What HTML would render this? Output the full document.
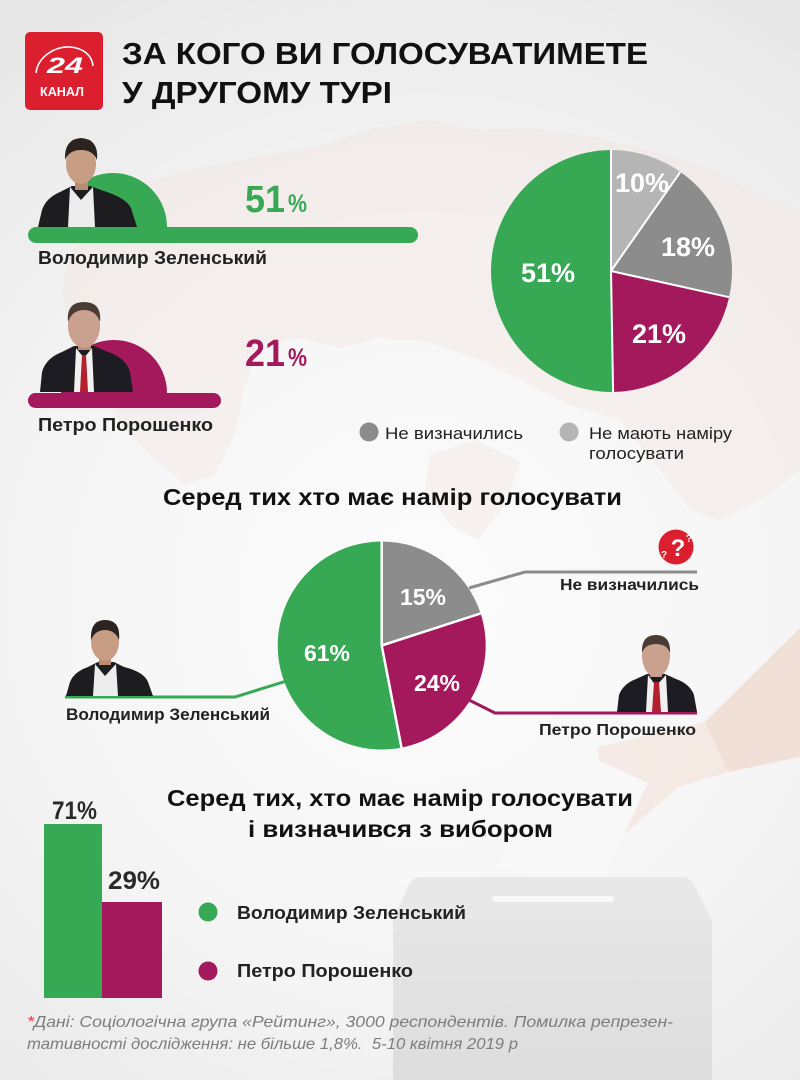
<!DOCTYPE html>
<html><head><meta charset="utf-8">
<style>
html,body{margin:0;padding:0;width:800px;height:1080px;overflow:hidden;background:#f0f0f0}
svg{display:block}
text{font-family:"Liberation Sans","DejaVu Sans",sans-serif}
</style></head><body>
<svg width="800" height="1080" viewBox="0 0 800 1080" xmlns="http://www.w3.org/2000/svg">
<defs>
<radialGradient id="bg" cx="420" cy="600" r="680" gradientUnits="userSpaceOnUse">
<stop offset="0" stop-color="#fcfcfc"/><stop offset="0.55" stop-color="#f5f5f5"/><stop offset="1" stop-color="#e8e8e8"/>
</radialGradient>
<linearGradient id="boxg" x1="0" y1="0" x2="0" y2="1"><stop offset="0" stop-color="#e6e6e6"/><stop offset="1" stop-color="#dddddd"/></linearGradient>
</defs>
<rect width="800" height="1080" fill="url(#bg)"/>

<!-- faint map -->
<g fill="#f3e4e0" opacity="0.4">
<path d="M70,255 L95,215 L135,185 L190,170 L250,158 L320,146 L375,128 L430,120 L480,130 L530,128 L585,135 L640,148 L700,165 L760,195 L800,212 L800,470 L760,500 L720,520 L690,510 L660,470 L620,420 L570,405 L530,385 L480,360 L430,342 L380,338 L340,348 L300,338 L262,345 L245,385 L235,435 L215,475 L185,485 L155,460 L125,430 L100,390 L75,340 L62,295 Z"/>
<path d="M430,455 L475,440 L520,462 L505,505 L478,540 L450,525 L425,490 Z"/>
</g>

<!-- hand -->
<g opacity="0.6">
<path d="M800,628 L705,722 L728,772 L800,757 Z" fill="#efd2c4"/>
<path d="M598,747 L705,722 L728,772 L678,787 L620,838 L600,800 Z" fill="#f4e1d8"/>
</g>
<!-- ballot paper -->
<path d="M497,867 L560,743 L648,783 L597,893 Z" fill="#f8f8f8"/>
<!-- ballot box -->
<path d="M421,877 L682,877 Q690,877 694,885 L712,920 L393,920 L409,885 Q413,877 421,877 Z" fill="#e8e8e8"/>
<rect x="393" y="920" width="319" height="160" fill="url(#boxg)"/>
<rect x="492" y="896" width="122" height="6" rx="3" fill="#f9f9f9"/>

<!-- logo -->
<rect x="25" y="32" width="78" height="78" rx="5" fill="#dc1f2e"/>
<path d="M36,73 C38,56 56,46 70,47 C83,48 92,55 93,66" stroke="#fff" stroke-width="1.6" fill="none"/>
<text x="47" y="73" font-size="22" font-weight="bold" font-style="italic" fill="#fff" textLength="36" lengthAdjust="spacingAndGlyphs">24</text>
<text x="40" y="96" font-size="13" font-weight="bold" fill="#fff" textLength="44" lengthAdjust="spacingAndGlyphs">КАНАЛ</text>

<!-- title -->
<text x="122" y="64" font-size="31" font-weight="bold" fill="#111" textLength="526" lengthAdjust="spacingAndGlyphs">ЗА КОГО ВИ ГОЛОСУВАТИМЕТЕ</text>
<text x="122" y="103" font-size="31" font-weight="bold" fill="#111" textLength="270" lengthAdjust="spacingAndGlyphs">У ДРУГОМУ ТУРІ</text>

<!-- top left: Zelensky -->
<path d="M59,227 A54,54 0 0 1 167,227 Z" fill="#37a955"/>
<g>
<path d="M38,227 L42,210 Q46,198 60,192 L72,186 L90,186 L104,191 Q126,198 131,208 L137,227 Z" fill="#1d1d20"/>
<path d="M70,187 L81,200 L93,187 L95,227 L68,227 Z" fill="#ececec"/>
<rect x="75" y="176" width="13" height="14" fill="#b98c72"/>
<ellipse cx="81" cy="164" rx="15" ry="20" fill="#c79d84"/>
<path d="M65,160 Q64,139 81,138 Q99,139 97,160 Q93,150 81,150 Q69,150 65,160 Z" fill="#2b2320"/>
</g>
<rect x="28" y="227" width="390" height="16" rx="8" fill="#37a955"/>
<text x="38" y="264" font-size="18" font-weight="bold" fill="#222" textLength="229" lengthAdjust="spacingAndGlyphs">Володимир Зеленський</text>
<text x="245" y="212" font-size="38" font-weight="bold" fill="#37a955" textLength="40" lengthAdjust="spacingAndGlyphs">51</text>
<text x="288" y="212" font-size="25" font-weight="bold" fill="#37a955" textLength="19" lengthAdjust="spacingAndGlyphs">%</text>

<!-- top left: Poroshenko -->
<path d="M61,393 A53,53 0 0 1 167,393 Z" fill="#a3195b"/>
<g>
<path d="M40,392 L42,372 Q46,358 62,352 L74,346 L94,346 L108,352 Q126,358 130,372 L133,392 Z" fill="#1c1c22"/>
<path d="M76,348 L84,358 L92,348 L94,392 L74,392 Z" fill="#f0f0f0"/>
<path d="M82,355 L86,355 L88,392 L80,392 Z" fill="#b3202e"/>
<rect x="78" y="338" width="13" height="12" fill="#bb8e7c"/>
<ellipse cx="84" cy="326" rx="16" ry="22" fill="#caa08e"/>
<path d="M68,322 Q66,302 84,302 Q102,302 100,322 Q96,310 84,310 Q72,310 68,322 Z" fill="#4a3c34"/>
</g>
<rect x="28" y="393" width="193" height="15" rx="7.5" fill="#a3195b"/>
<text x="38" y="431" font-size="18" font-weight="bold" fill="#222" textLength="175" lengthAdjust="spacingAndGlyphs">Петро Порошенко</text>
<text x="245" y="366" font-size="38" font-weight="bold" fill="#a3195b" textLength="40" lengthAdjust="spacingAndGlyphs">21</text>
<text x="288" y="366" font-size="25" font-weight="bold" fill="#a3195b" textLength="19" lengthAdjust="spacingAndGlyphs">%</text>

<!-- pie 1 -->
<path d="M611,271 L611,150 A121,121 0 0 1 680.4,171.9 Z" fill="#b5b5b5"/>
<path d="M611,271 L680.4,171.9 A121,121 0 0 1 729.1,297.2 Z" fill="#8c8c8c"/>
<path d="M611,271 L729.1,297.2 A121,121 0 0 1 613.1,392 Z" fill="#a3195b"/>
<path d="M611,271 L613.1,392 A121,121 0 1 1 611,150 Z" fill="#37a955"/>
<g stroke="#fff" stroke-width="2">
<line x1="611" y1="271" x2="611" y2="150"/>
<line x1="611" y1="271" x2="680.4" y2="171.9"/>
<line x1="611" y1="271" x2="729.1" y2="297.2"/>
<line x1="611" y1="271" x2="613.1" y2="392"/>
</g>
<g font-size="27" font-weight="bold" fill="#fff" text-anchor="middle">
<text x="642" y="192">10%</text>
<text x="688" y="256">18%</text>
<text x="548" y="282">51%</text>
<text x="659" y="343">21%</text>
</g>

<!-- legend top -->
<circle cx="369" cy="432" r="9.5" fill="#8c8c8c"/>
<text x="385" y="439" font-size="17" fill="#222" textLength="138" lengthAdjust="spacingAndGlyphs">Не визначились</text>
<circle cx="569" cy="432" r="9.5" fill="#b5b5b5"/>
<text x="589" y="439" font-size="17" fill="#222" textLength="143" lengthAdjust="spacingAndGlyphs">Не мають наміру</text>
<text x="589" y="459" font-size="17" fill="#222" textLength="95" lengthAdjust="spacingAndGlyphs">голосувати</text>

<!-- middle title -->
<text x="163" y="505" font-size="23" font-weight="bold" fill="#111" textLength="459" lengthAdjust="spacingAndGlyphs">Серед тих хто має намір голосувати</text>

<!-- middle lines -->
<polyline points="65,697 235,697 285,681.5" fill="none" stroke="#37a955" stroke-width="3"/>
<polyline points="469,588 525,572 697,572" fill="none" stroke="#8c8c8c" stroke-width="3"/>
<polyline points="469,700 495,713 697,713" fill="none" stroke="#a3195b" stroke-width="3"/>

<!-- pie 2 -->
<path d="M381.7,645.5 L381.7,541.5 A104,104 0 0 1 480.6,613.4 Z" fill="#8c8c8c"/>
<path d="M381.7,645.5 L480.6,613.4 A104,104 0 0 1 401.5,747.6 Z" fill="#a3195b"/>
<path d="M381.7,645.5 L401.5,747.6 A104,104 0 1 1 381.7,541.5 Z" fill="#37a955"/>
<g stroke="#fff" stroke-width="2.5">
<line x1="381.7" y1="645.5" x2="381.7" y2="541.5"/>
<line x1="381.7" y1="645.5" x2="480.6" y2="613.4"/>
<line x1="381.7" y1="645.5" x2="401.5" y2="747.6"/>
</g>
<g font-size="23" font-weight="bold" fill="#fff" text-anchor="middle">
<text x="423" y="605">15%</text>
<text x="327" y="661">61%</text>
<text x="437" y="691">24%</text>
</g>

<!-- question icon -->
<circle cx="676" cy="547" r="17.5" fill="#dc1f2e"/>
<text x="678" y="556" font-size="24" font-weight="bold" fill="#fff" text-anchor="middle">?</text>
<text x="664" y="558" font-size="10" font-weight="bold" fill="#fff" text-anchor="middle">?</text>
<text x="689" y="542" font-size="11" font-weight="bold" fill="#fff" text-anchor="middle">?</text>
<text x="560" y="590" font-size="16" font-weight="bold" fill="#222" textLength="139" lengthAdjust="spacingAndGlyphs">Не визначились</text>

<!-- Zelensky 2 -->
<g>
<path d="M66,696 L70,682 Q74,672 88,667 L98,662 L114,662 L124,667 Q144,672 148,682 L153,696 Z" fill="#1d1d20"/>
<path d="M95,664 L105,676 L116,664 L118,696 L93,696 Z" fill="#ececec"/>
<rect x="99" y="655" width="12" height="10" fill="#b98c72"/>
<ellipse cx="105" cy="642" rx="14" ry="19" fill="#c79d84"/>
<path d="M91,640 Q90,620 105,620 Q121,620 119,640 Q115,630 105,630 Q95,630 91,640 Z" fill="#2b2320"/>
</g>
<text x="66" y="720" font-size="16.5" font-weight="bold" fill="#222" textLength="204" lengthAdjust="spacingAndGlyphs">Володимир Зеленський</text>

<!-- Poroshenko 2 -->
<g>
<path d="M617,712 L619,695 Q623,684 636,679 L647,674 L665,674 L676,679 Q690,684 694,695 L697,712 Z" fill="#1c1c22"/>
<path d="M648,675 L656,686 L666,675 L668,712 L646,712 Z" fill="#f0f0f0"/>
<path d="M654,682 L659,682 L661,712 L652,712 Z" fill="#b3202e"/>
<rect x="650" y="668" width="12" height="9" fill="#bb8e7c"/>
<ellipse cx="656" cy="656" rx="14" ry="21" fill="#caa08e"/>
<path d="M642,653 Q641,635 656,635 Q671,635 670,653 Q667,644 656,644 Q645,644 642,653 Z" fill="#4a3c34"/>
</g>
<text x="539" y="735" font-size="16" font-weight="bold" fill="#222" textLength="157" lengthAdjust="spacingAndGlyphs">Петро Порошенко</text>

<!-- bottom title -->
<text x="167" y="806" font-size="23" font-weight="bold" fill="#111" textLength="466" lengthAdjust="spacingAndGlyphs">Серед тих, хто має намір голосувати</text>
<text x="248" y="837" font-size="23" font-weight="bold" fill="#111" textLength="305" lengthAdjust="spacingAndGlyphs">і визначився з вибором</text>

<!-- bottom bars -->
<rect x="44" y="824" width="58" height="174" fill="#37a955"/>
<rect x="102" y="902" width="60" height="96" fill="#a3195b"/>
<text x="52" y="819" font-size="25" font-weight="bold" fill="#2a2a2a" textLength="45" lengthAdjust="spacingAndGlyphs">71%</text>
<text x="108" y="889" font-size="25" font-weight="bold" fill="#2a2a2a" textLength="52" lengthAdjust="spacingAndGlyphs">29%</text>

<!-- bottom legend -->
<circle cx="208" cy="912" r="9.5" fill="#37a955"/>
<text x="237" y="919" font-size="18" font-weight="bold" fill="#222" textLength="229" lengthAdjust="spacingAndGlyphs">Володимир Зеленський</text>
<circle cx="208" cy="971" r="9.5" fill="#a3195b"/>
<text x="237" y="977" font-size="18" font-weight="bold" fill="#222" textLength="176" lengthAdjust="spacingAndGlyphs">Петро Порошенко</text>

<!-- footnote -->
<text x="27" y="1027" font-size="16" font-style="italic" fill="#7d7d7d" textLength="646" lengthAdjust="spacingAndGlyphs"><tspan fill="#e5334b">*</tspan>Дані: Соціологічна група «Рейтинг», 3000 респондентів. Помилка репрезен-</text>
<text x="27" y="1049" font-size="16" font-style="italic" fill="#7d7d7d" textLength="491" lengthAdjust="spacingAndGlyphs">тативності дослідження: не більше 1,8%.&#160; 5-10 квітня 2019 р</text>
</svg>
</body></html>
